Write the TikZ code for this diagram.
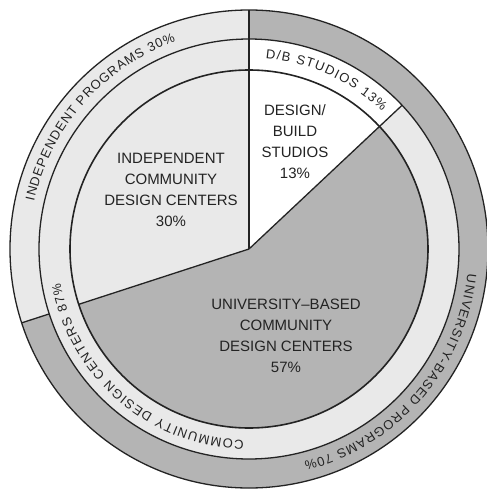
\documentclass[tikz,border=0pt]{standalone}
\usepackage{fontspec}
\setmainfont{Liberation Sans}
\usetikzlibrary{decorations.text}
\definecolor{midgray}{RGB}{180,180,180}
\definecolor{lightfill}{RGB}{233,233,233}
\definecolor{ink}{RGB}{35,35,35}
\newcommand\rtxt{\fontsize{13pt}{15pt}\selectfont}
\begin{document}
\begin{tikzpicture}[
  edge/.style={draw=ink, line width=1.3pt},
  inneredge/.style={draw=ink, line width=1.6pt},
  centerlabel/.style={align=center, text=ink, font=\fontsize{15pt}{21pt}\selectfont},
  ringlabel/.style={decorate, decoration={text along path, text align={fit to path}, text color=ink, text={#1}}}
]
\useasboundingbox (-249pt,-242pt) rectangle (238pt,249pt);
\coordinate (O) at (0,0);
% outer ring
\fill[lightfill] (90:210pt) arc[start angle=90,end angle=198,radius=210pt] -- (198:239pt) arc[start angle=198,end angle=90,radius=239pt] -- cycle;
\fill[midgray] (198:210pt) arc[start angle=198,end angle=450,radius=210pt] -- (450:239pt) arc[start angle=450,end angle=198,radius=239pt] -- cycle;
% middle ring
\fill[white] (43.2:179pt) arc[start angle=43.2,end angle=90,radius=179pt] -- (90:210pt) arc[start angle=90,end angle=43.2,radius=210pt] -- cycle;
\fill[lightfill] (90:179pt) arc[start angle=90,end angle=403.2,radius=179pt] -- (403.2:210pt) arc[start angle=403.2,end angle=90,radius=210pt] -- cycle;
% pie
\fill[lightfill] (O) -- (90:179pt) arc[start angle=90,end angle=198,radius=179pt] -- cycle;
\fill[white] (O) -- (43.2:179pt) arc[start angle=43.2,end angle=90,radius=179pt] -- cycle;
\fill[midgray] (O) -- (198:179pt) arc[start angle=198,end angle=403.2,radius=179pt] -- cycle;
% circles
\draw[edge] (O) circle[radius=239pt];
\draw[edge] (O) circle[radius=210pt];
\draw[inneredge] (O) circle[radius=179pt];
% dividers
\coordinate (top) at (90:239pt);
\coordinate (db) at (43.2:210pt);
\coordinate (ic) at (198:179pt);
\coordinate (op1) at (198:210pt);
\coordinate (op2) at (198:239pt);
\draw[edge] (O) -- (top);
\draw[edge] (O) -- (db);
\draw[edge] (O) -- (ic);
\draw[edge] (op1) -- (op2);
% center labels
\node[centerlabel] (indep) at (-78pt,59pt) {INDEPENDENT\\COMMUNITY\\DESIGN CENTERS\\30\%};
\node[centerlabel] (dbs) at (46pt,107pt) {DESIGN/\\BUILD\\STUDIOS\\13\%};
\node[centerlabel] (univ) at (37pt,-87pt) {UNIVERSITY–BASED\\COMMUNITY\\DESIGN CENTERS\\57\%};
% ring labels
\path[ringlabel={|\rtxt|INDEPENDENT PROGRAMS 30{\%}}] (167.5:220pt) arc[start angle=167.5,end angle=109.5,radius=220pt];
\path[ringlabel={|\rtxt|D/B STUDIOS 13{\%}}] (85:191.5pt) arc[start angle=85,end angle=46,radius=191.5pt];
\path[ringlabel={|\rtxt|COMMUNITY DESIGN CENTERS 87{\%}}] (268.5:191.5pt) arc[start angle=268.5,end angle=190.4,radius=191.5pt];
\path[ringlabel={|\rtxt|UNIVERSITY-BASED PROGRAMS 70{\%}}] (-6.5:220pt) arc[start angle=-6.5,end angle=-75.5,radius=220pt];
\end{tikzpicture}
\end{document}
